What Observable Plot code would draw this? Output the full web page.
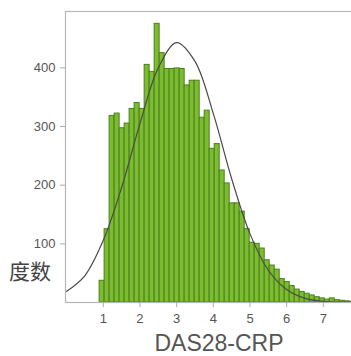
<!DOCTYPE html>
<html>
<head>
<meta charset="utf-8">
<script src="https://cdn.jsdelivr.net/npm/d3@7"></script>
<script src="https://cdn.jsdelivr.net/npm/@observablehq/plot@0.6"></script>
<style>
  html, body { margin: 0; padding: 0; background: #fff; overflow: hidden; width: 351px; height: 356px; }
  #wrap { position: relative; width: 351px; height: 356px; overflow: hidden; }
  #chart svg { max-width: none !important; display: block; }
  #ylab { position: absolute; left: 9px; top: 260px; font-family: "Noto Sans CJK SC", sans-serif; font-size: 21px; color: #444; line-height: 1; }
</style>
</head>
<body>
<div id="wrap">
  <div id="chart"></div>
  <div id="ylab">度数</div>
</div>
<script>
// Histogram bins (DAS28-CRP)
const binStart = 0.9;
const binWidth = 0.1364;
const binCounts = [37, 125, 318, 322, 297, 305, 330, 340, 330, 405,
                   393, 475, 425, 398, 398, 399, 398, 370, 378, 378,
                   315, 327, 262, 270, 225, 203, 169, 169, 155, 125,
                   102, 100, 92, 72, 63, 56, 40, 35, 28, 22,
                   18, 15, 12, 9, 7, 5, 7, 4, 3, 2, 1];
// Fitted curve
const curveX = [0, 0.5, 1, 1.5, 2, 2.5, 3, 3.5, 4, 4.5, 5, 5.5, 6, 6.5, 7, 7.5, 8, 8.3];
const curveY = [19, 46, 106, 196, 305, 400, 443, 411, 322, 211, 117, 55, 22, 7, 2, 0.5, 0.1, 0.05];
const xTicks = [1, 2, 3, 4, 5, 6, 7];
const yTicks = [100, 200, 300, 400];
const xLabel = "DAS28-CRP";

const bins = binCounts.map((c, i) => ({x1: binStart + i * binWidth, x2: binStart + (i + 1) * binWidth, count: c}));
const curve = curveX.map((x, i) => ({x, y: curveY[i]}));

const chart = Plot.plot({
  width: 372,
  height: 356,
  marginLeft: 65,
  marginRight: 0,
  marginTop: 11,
  marginBottom: 54,
  style: {fontFamily: "'Liberation Sans', Arial, sans-serif", background: "#fff", maxWidth: "none"},
  x: {domain: [-0.03, 8.34]},
  y: {domain: [0, 496]},
  marks: [
    Plot.rectY(bins, {x1: "x1", x2: "x2", y: "count", fill: "#7dbb30", stroke: "#4a801c", strokeWidth: 1, inset: 0}),
    Plot.line(curve, {x: "x", y: "y", curve: "catmull-rom", stroke: "#4a4a4a", strokeWidth: 1.2, clip: true}),
    Plot.frame({stroke: "#b5b5b5", strokeWidth: 1.2}),
    Plot.axisY({ticks: yTicks, tickSize: 5, tickPadding: 5, label: null, fontSize: 13, stroke: "#aaa", fill: "#555"}),
    Plot.axisX({ticks: xTicks, tickSize: 5, tickPadding: 6, label: null, fontSize: 13, stroke: "#aaa", fill: "#555"}),
    Plot.text([xLabel], {frameAnchor: "bottom", dy: 48, fontSize: 23, fill: "#555"})
  ]
});
document.getElementById("chart").appendChild(chart);
</script>
</body>
</html>
